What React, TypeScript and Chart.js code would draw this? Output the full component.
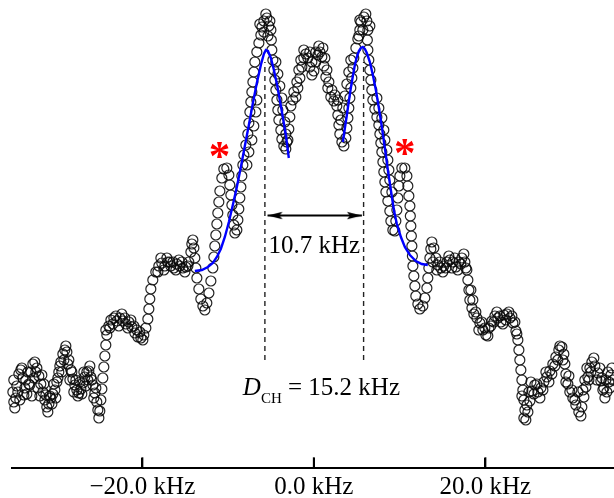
import React, { useEffect, useRef } from "react";
import { Chart, registerables } from "chart.js";

Chart.register(...registerables);

// Spectrum (frequency offset in kHz, intensity in a.u.) — main trace
const SPEC_X = [
  -35.10, -34.99, -34.87, -34.75, -34.64, -34.40, -34.17, -33.94, -33.70, -33.47,
  -33.24, -33.00, -32.77, -32.54, -32.30, -32.07, -31.84, -31.60, -31.37, -31.14,
  -30.90, -30.67, -30.44, -30.20, -29.97, -29.74, -29.50, -29.27, -29.04, -28.80,
  -28.57, -28.34, -28.10, -27.87, -27.64, -27.41, -27.17, -26.94, -26.71, -26.47,
  -26.24, -26.01, -25.77, -25.54, -25.31, -25.19, -25.07, -24.96, -24.84, -24.72,
  -24.61, -24.49, -24.37, -24.26, -24.14, -23.91, -23.67, -23.32, -22.97, -22.62,
  -22.27, -21.92, -21.57, -21.22, -20.87, -20.52, -20.17, -19.83, -19.59, -19.36,
  -19.24, -19.13, -19.01, -18.78, -18.43, -18.08, -17.73, -17.38, -17.03, -16.68,
  -16.33, -15.98, -15.63, -15.28, -14.93, -14.58, -14.34, -14.23, -14.11, -13.99,
  -13.88, -13.76, -13.64, -13.41, -13.18, -12.94, -12.71, -12.48, -12.24, -12.01,
  -11.78, -11.66, -11.55, -11.43, -11.31, -11.20, -11.08, -10.96, -10.73, -10.50,
  -10.15, -9.91, -9.80, -9.68, -9.56, -9.45, -9.33, -9.21, -8.98, -8.86,
  -8.75, -8.63, -8.51, -8.40, -8.28, -8.16, -7.93, -7.70, -7.58, -7.46,
  -7.35, -7.23, -7.11, -7.00, -6.88, -6.65, -6.41, -6.18, -6.06, -5.83,
  -5.48, -5.13, -5.01, -4.96, -4.90, -4.78, -4.66, -4.55, -4.43, -4.31,
  -4.20, -4.08, -3.85, -3.73, -3.50, -3.27, -3.03, -2.92, -2.80, -2.68,
  -2.45, -2.10, -1.87, -1.63, -1.40, -1.17, -0.93, -0.70, -0.47, -0.23,
  0.00, 0.23, 0.47, 0.70, 0.93, 1.17, 1.40, 1.63, 1.98, 2.33,
  2.68, 2.80, 2.92, 3.03, 3.27, 3.50, 3.73, 3.85, 3.97, 4.08,
  4.20, 4.31, 4.43, 4.55, 4.66, 4.90, 5.13, 5.36, 5.48, 5.83,
  6.18, 6.30, 6.24, 6.30, 6.41, 6.53, 6.65, 6.76, 6.88, 7.11,
  7.35, 7.58, 7.70, 7.81, 7.93, 8.05, 8.16, 8.28, 8.40, 8.63,
  8.86, 8.98, 9.21, 9.45, 9.56, 9.68, 9.80, 9.91, 10.03, 10.26,
  10.61, 10.85, 10.96, 11.08, 11.20, 11.25, 11.31, 11.37, 11.43, 11.49,
  11.55, 11.66, 11.78, 11.89, 12.13, 12.36, 12.71, 12.94, 13.18, 13.29,
  13.41, 13.53, 13.64, 13.76, 13.99, 14.23, 14.46, 14.81, 15.16, 15.51,
  15.86, 16.21, 16.56, 16.91, 17.26, 17.61, 17.84, 17.96, 18.08, 18.19,
  18.43, 18.66, 19.01, 19.36, 19.71, 20.06, 20.41, 20.76, 21.11, 21.46,
  21.81, 22.16, 22.51, 22.86, 23.21, 23.56, 23.79, 23.91, 24.02, 24.14,
  24.26, 24.37, 24.49, 24.61, 24.72, 24.96, 25.19, 25.42, 25.77, 26.12,
  26.47, 26.82, 27.17, 27.52, 27.87, 28.22, 28.57, 28.92, 29.15, 29.27,
  29.39, 29.62, 29.85, 30.20, 30.55, 30.90, 31.25, 31.49, 31.72, 31.95,
  32.19, 32.42, 32.77, 33.12, 33.47, 33.70, 33.94, 34.17, 34.40, 34.64,
  34.87,
];
const SPEC_Y = [
  19.0, 16.5, 15.0, 17.5, 20.5, 23.5, 24.5, 22.5, 20.0, 18.5,
  21.0, 24.0, 26.0, 26.5, 25.0, 23.0, 21.0, 19.0, 17.0, 15.25,
  16.0, 17.5, 18.5, 19.5, 21.5, 24.0, 26.5, 28.5, 29.5, 29.0,
  27.0, 24.5, 22.25, 20.75, 19.5, 18.75, 19.75, 21.25, 22.75, 24.0,
  24.25, 22.75, 20.75, 18.75, 16.5, 14.5, 12.5, 14.25, 17.0, 19.75,
  22.5, 25.25, 28.0, 30.75, 33.25, 35.5, 37.0, 37.5, 36.75, 37.5,
  36.75, 36.0, 36.5, 35.25, 33.75, 32.75, 32.5, 33.25, 35.0, 37.25,
  39.75, 42.25, 44.75, 47.0, 49.0, 50.5, 51.25, 50.5, 51.5, 50.5,
  50.0, 51.0, 50.5, 50.0, 50.25, 51.5, 54.0, 56.0, 57.0, 55.0,
  52.5, 50.0, 47.5, 44.75, 42.25, 40.5, 39.5, 41.25, 43.75, 46.75,
  50.0, 52.75, 55.5, 58.25, 61.0, 63.75, 66.5, 69.25, 72.5, 74.75,
  75.0, 73.25, 70.75, 68.25, 65.75, 63.25, 60.75, 58.75, 59.5, 62.0,
  64.75, 67.5, 70.25, 73.0, 75.75, 78.25, 80.75, 83.5, 86.25, 89.0,
  91.5, 94.0, 96.5, 99.0, 101.5, 104.0, 106.25, 108.25, 110.25, 111.75,
  112.5, 111.75, 109.5, 107.0, 104.5, 102.0, 99.5, 97.0, 94.5, 92.0,
  89.5, 87.0, 84.5, 82.25, 80.5, 79.75, 82.0, 84.75, 87.75, 90.5,
  92.0, 92.75, 95.0, 97.5, 100.25, 102.5, 103.5, 102.5, 100.25, 98.25,
  99.25, 101.5, 103.25, 104.0, 102.75, 100.5, 97.75, 95.0, 92.75, 91.75,
  90.5, 88.25, 85.75, 83.5, 81.5, 80.5, 82.5, 85.0, 87.5, 90.0,
  92.5, 95.0, 97.5, 100.0, 102.5, 105.0, 107.25, 109.5, 111.5, 112.75,
  111.75, 109.5, 107.0, 104.5, 102.0, 99.5, 97.0, 94.5, 92.0, 89.75,
  87.75, 85.75, 83.5, 81.25, 79.0, 76.5, 74.0, 71.5, 69.0, 66.75,
  64.25, 61.75, 59.5, 59.25, 61.75, 64.5, 67.5, 70.5, 73.0, 75.0,
  75.0, 73.0, 70.5, 68.0, 65.5, 63.0, 60.5, 58.0, 55.5, 53.0,
  50.5, 48.0, 45.5, 43.0, 41.0, 39.75, 40.5, 42.5, 45.0, 47.5,
  50.0, 52.5, 54.75, 56.5, 55.0, 52.5, 50.75, 50.0, 50.5, 51.5,
  52.0, 51.5, 50.25, 51.5, 52.5, 51.5, 49.5, 47.0, 44.5, 42.0,
  40.0, 38.5, 37.5, 36.25, 34.5, 33.25, 35.0, 36.75, 38.0, 37.5,
  36.5, 38.25, 38.5, 37.5, 36.25, 34.25, 32.0, 29.5, 27.0, 24.5,
  22.0, 19.5, 17.0, 14.5, 12.0, 14.0, 16.75, 19.25, 20.75, 19.0,
  20.0, 21.5, 22.75, 24.25, 26.0, 27.75, 29.5, 30.25, 28.5, 26.0,
  23.5, 21.0, 19.0, 17.5, 15.75, 14.0, 15.25, 17.75, 20.25, 22.75,
  25.0, 26.5, 25.5, 23.75, 21.75, 19.5, 17.5, 19.0, 21.5, 23.25,
  22.0,
];

// Additional overlapping samples (noise scatter around the trace)
const SPEC_EXTRA_X = [
  -34.99, -34.52, -34.29, -34.05, -33.82, -33.59, -33.35, -33.12, -32.89, -32.65,
  -32.42, -32.19, -31.95, -31.72, -31.49, -31.25, -31.02, -30.79, -30.55, -30.32,
  -30.09, -29.85, -29.62, -29.39, -29.15, -28.92, -28.69, -28.45, -28.22, -27.99,
  -27.75, -27.52, -27.29, -27.06, -26.82, -26.59, -26.36, -26.12, -25.89, -25.66,
  -25.42,
  -24.26, -23.79, -23.44, -23.09, -22.74, -22.39, -22.04, -21.69, -21.34, -20.99,
  -20.64, -20.29, -19.94,
  -18.19, -17.84, -17.49, -17.14, -16.79, -16.44, -16.09, -15.74, -15.39, -15.04,
  -14.69,
  -7.81, -7.58, -7.23, -7.00, -6.76, -6.65,
  -6.30, -5.60, -5.25, -5.83, -5.36,
  -4.43, -4.20, -3.97, -3.73, -3.62, -3.38, -3.27, -3.15,
  -2.33, -1.98, -1.75, -1.52, -1.17, -0.47, -0.23, 0.23, 0.58, 1.05,
  1.28, 1.52, 1.75, 2.10, 2.45, 2.80,
  3.15, 3.38, 3.62, 3.85, 4.08, 4.31,
  5.36, 6.06, 6.53, 5.71, 5.25,
  7.35, 7.58, 7.93, 8.16, 8.28, 8.51, 8.63, 8.75, 8.86, 9.10,
  13.88, 14.34, 14.69, 15.04, 15.39, 15.74, 16.09, 16.44, 16.79, 17.14,
  17.49, 17.73,
  18.31, 18.54, 18.89, 19.24, 19.59, 19.94, 20.29, 20.64, 20.99, 21.34,
  21.69, 22.04, 22.39, 22.74, 23.09, 23.44, 23.67,
  24.26, 24.49, 24.84, 25.07, 25.31, 25.66, 26.01, 26.36, 26.71, 27.06,
  27.41, 27.75, 28.10, 28.45, 28.69, 29.04, 29.39, 29.74, 30.09, 30.44,
  30.79, 31.14, 31.37, 31.60, 31.84, 32.07, 32.30, 32.65, 33.00, 33.35,
  33.59, 33.82, 34.05, 34.29, 34.52, 34.75,
];
const SPEC_EXTRA_Y = [
  22.0, 19.0, 17.0, 25.0, 18.25, 22.0, 24.0, 20.75, 18.0, 22.5,
  24.0, 20.0, 18.0, 23.25, 21.0, 18.25, 14.0, 18.0, 16.0, 21.0,
  17.5, 22.5, 25.5, 24.0, 27.0, 30.5, 26.0, 22.0, 24.0, 19.0,
  22.0, 18.0, 21.5, 18.5, 24.0, 20.5, 22.0, 25.5, 22.0, 17.5,
  20.0,
  34.5, 35.0, 36.0, 38.0, 35.5, 38.5, 37.5, 35.0, 37.0, 35.5,
  34.5, 34.0, 32.0,
  49.0, 52.5, 49.5, 52.5, 51.5, 51.5, 49.5, 52.0, 51.5, 49.0,
  50.5,
  75.75, 79.0, 82.0, 85.5, 89.0, 92.0,
  111.0, 113.5, 110.5, 109.0, 108.0,
  101.5, 98.5, 95.5, 92.5, 89.5, 86.5, 83.5, 81.5,
  94.0, 96.5, 99.5, 102.0, 104.5, 104.0, 101.5, 104.0, 105.5, 105.0,
  102.5, 99.5, 96.5, 94.5, 93.25, 92.0,
  87.0, 90.0, 93.0, 96.0, 99.0, 102.0,
  112.0, 113.5, 110.5, 109.5, 108.0,
  92.5, 90.0, 87.5, 84.5, 82.0, 79.5, 77.0, 74.5, 72.0, 69.0,
  51.5, 49.5, 51.5, 49.0, 50.0, 53.0, 50.0, 52.5, 49.5, 51.0,
  53.5, 50.0,
  44.5, 42.0, 39.0, 34.5, 36.5, 35.0, 33.0, 35.5, 36.5, 39.0,
  38.0, 36.0, 37.0, 39.0, 38.0, 36.5, 33.5,
  18.0, 12.5, 15.75, 19.0, 21.5, 18.5, 21.0, 17.5, 19.5, 24.0,
  21.5, 23.5, 25.5, 27.0, 30.5, 27.0, 21.5, 23.0, 19.5, 17.0,
  19.0, 13.0, 19.5, 22.0, 25.0, 22.0, 24.0, 27.5, 22.0, 25.0,
  22.5, 20.0, 22.0, 24.0, 20.0, 25.0,
];

// Fitted Pake-pattern horns (blue)
const FIT_L_X = [-13.88, -13.06, -12.36, -11.78, -11.31, -10.85, -10.38, -9.91, -9.45, -8.98,
  -8.51, -8.05, -7.58, -7.11, -6.65, -6.18, -5.83, -5.60, -5.36, -5.01,
  -4.66, -4.31, -3.97, -3.62, -3.27, -2.92];
const FIT_L_Y = [49.25, 49.5, 50.25, 51.25, 52.75, 54.75, 57.75, 61.5, 65.75, 70.25,
  75.25, 80.5, 85.75, 91.25, 96.25, 100.75, 103.5, 104.5, 104.25, 102.5,
  99.5, 96.0, 92.0, 87.75, 83.25, 77.5];
const FIT_R_X = [3.38, 3.62, 3.85, 4.08, 4.31, 4.55, 4.78, 5.01, 5.25, 5.48,
  5.71, 5.95, 6.18, 6.53, 6.88, 7.23, 7.58, 7.93, 8.28, 8.63,
  8.98, 9.33, 9.68, 10.15, 10.61, 11.20, 11.89, 12.59, 13.29];
const FIT_R_Y = [81.5, 85.0, 88.25, 91.75, 95.0, 98.0, 100.75, 102.75, 104.25, 105.0,
  105.25, 104.75, 103.75, 101.5, 98.25, 94.5, 90.0, 85.25, 80.0, 74.5,
  69.5, 64.5, 61.0, 57.75, 55.25, 53.25, 51.75, 51.0, 50.75];

// Guide lines / annotations
const DASH_X = [-5.71, 5.80];
const DASH_Y = [27.0, 101.5];
const ARROW_X = [-5.40, 5.60];
const ARROW_Y = 63.1;
const X_TICKS = [-20, 0, 20];
const TICK_MARK_Y = 1.3;
const STAR_X = [-11.02, 10.58];
const STAR_Y = [79.6, 80.3];
const SPLIT_TEXT = "10.7 kHz";
const SPLIT_POS = [0.06, 53.75];
const DCH_POS = [-8.28, 18.25];

const SERIF = '"Liberation Serif", "Times New Roman", serif';

function makeArrowHead(): HTMLCanvasElement {
  const c = document.createElement("canvas");
  c.width = 32;
  c.height = 9;
  const g = c.getContext("2d")!;
  g.fillStyle = "#000";
  g.beginPath();
  g.moveTo(1, 0.8);
  g.lineTo(16, 4.5);
  g.lineTo(1, 8.2);
  g.lineTo(4, 4.5);
  g.closePath();
  g.fill();
  return c;
}

const annotPlugin = {
  id: "annot",
  afterDraw(chart: any) {
    const { ctx } = chart;
    const xs = chart.scales.x;
    const ys = chart.scales.y;
    ctx.save();
    ctx.fillStyle = "#000";
    ctx.textBaseline = "alphabetic";
    // splitting label
    ctx.font = `25px ${SERIF}`;
    ctx.textAlign = "center";
    ctx.fillText(SPLIT_TEXT, xs.getPixelForValue(SPLIT_POS[0]), ys.getPixelForValue(SPLIT_POS[1]));
    // D_CH = 15.2 kHz
    ctx.textAlign = "left";
    let px = xs.getPixelForValue(DCH_POS[0]);
    const py = ys.getPixelForValue(DCH_POS[1]);
    ctx.font = `italic 25px ${SERIF}`;
    ctx.fillText("D", px, py);
    px += ctx.measureText("D").width;
    ctx.font = `15px ${SERIF}`;
    ctx.fillText("CH", px, py + 8);
    px += ctx.measureText("CH").width;
    ctx.font = `25px ${SERIF}`;
    ctx.fillText(" = 15.2 kHz", px, py);
    // asterisks
    ctx.fillStyle = "#ff0000";
    ctx.font = `bold 43px ${SERIF}`;
    for (let i = 0; i < STAR_X.length; i++) {
      const m = ctx.measureText("*");
      const cx = xs.getPixelForValue(STAR_X[i]);
      const cy = ys.getPixelForValue(STAR_Y[i]);
      const w = m.actualBoundingBoxLeft + m.actualBoundingBoxRight;
      const h = m.actualBoundingBoxAscent + m.actualBoundingBoxDescent;
      ctx.fillText("*", cx - w / 2 + m.actualBoundingBoxLeft, cy + h / 2 - m.actualBoundingBoxDescent);
    }
    ctx.restore();
  },
};

function fmtTick(v: number): string {
  return (v < 0 ? "\u2212" : "") + Math.abs(v).toFixed(1) + " kHz";
}

export default function App() {
  const ref = useRef<HTMLCanvasElement>(null);
  useEffect(() => {
    document.body.style.margin = "0";
    const arrow = makeArrowHead();
    const spec = SPEC_X.map((x, i) => ({ x, y: SPEC_Y[i] })).concat(
      SPEC_EXTRA_X.map((x, i) => ({ x, y: SPEC_EXTRA_Y[i] }))
    );
    const fitL = FIT_L_X.map((x, i) => ({ x, y: FIT_L_Y[i] }));
    const fitR = FIT_R_X.map((x, i) => ({ x, y: FIT_R_Y[i] }));
    const dashStyle = {
      showLine: true,
      borderColor: "#222",
      borderWidth: 1.4,
      borderDash: [5, 4],
      pointRadius: 0,
      order: 2,
    };
    const chart = new Chart(ref.current!, {
      type: "scatter",
      data: {
        datasets: [
          { data: DASH_Y.map((y) => ({ x: DASH_X[0], y })), ...dashStyle } as any,
          { data: DASH_Y.map((y) => ({ x: DASH_X[1], y })), ...dashStyle } as any,
          {
            data: spec,
            showLine: false,
            pointRadius: 5,
            pointBorderWidth: 1.2,
            pointBorderColor: "rgba(10,10,10,0.9)",
            pointBackgroundColor: "rgba(255,255,255,0)",
            order: 1,
            clip: false,
          } as any,
          {
            data: fitL,
            showLine: true,
            borderColor: "#0000ff",
            borderWidth: 2.4,
            pointRadius: 0,
            order: 0,
          } as any,
          {
            data: fitR,
            showLine: true,
            borderColor: "#0000ff",
            borderWidth: 2.4,
            pointRadius: 0,
            order: 0,
          } as any,
          {
            data: ARROW_X.map((x) => ({ x, y: ARROW_Y })),
            showLine: true,
            borderColor: "#000",
            borderWidth: 2,
            pointRadius: 5,
            pointStyle: arrow,
            pointRotation: [180, 0],
            order: 0,
          } as any,
          {
            // inward tick marks on the frequency axis
            data: X_TICKS.map((x) => ({ x, y: TICK_MARK_Y })),
            showLine: false,
            pointStyle: "line",
            pointRotation: 90,
            pointRadius: 5.5,
            pointBorderWidth: 2,
            pointBorderColor: "#000",
            pointBackgroundColor: "#000",
            order: 0,
            clip: false,
          } as any,
        ],
      },
      options: {
        responsive: false,
        animation: false,
        events: [],
        layout: { autoPadding: false, padding: { left: 12, right: 0, top: 0, bottom: 0 } },
        plugins: { legend: { display: false }, tooltip: { enabled: false } },
        scales: {
          x: {
            type: "linear",
            position: "bottom",
            min: -35.2,
            max: 35.0,
            afterBuildTicks: (s: any) => {
              s.ticks = X_TICKS.map((v) => ({ value: v }));
            },
            ticks: {
              callback: (v: any) => fmtTick(Number(v)),
              font: { family: SERIF, size: 25 },
              color: "#000",
              padding: 14,
              maxRotation: 0,
              autoSkip: false,
            },
            grid: {
              drawOnChartArea: false,
              drawTicks: true,
              tickLength: -10,
              color: "#000",
              lineWidth: 2,
            },
            border: { display: true, color: "#000", width: 2 },
          },
          y: { display: false, min: 0, max: 117 },
        },
      } as any,
      plugins: [annotPlugin],
    });
    return () => chart.destroy();
  }, []);
  return (
    <div style={{ width: 614, height: 498, overflow: "hidden", background: "#fff" }}>
      <canvas ref={ref} width={614} height={516} style={{ display: "block" }} />
    </div>
  );
}
